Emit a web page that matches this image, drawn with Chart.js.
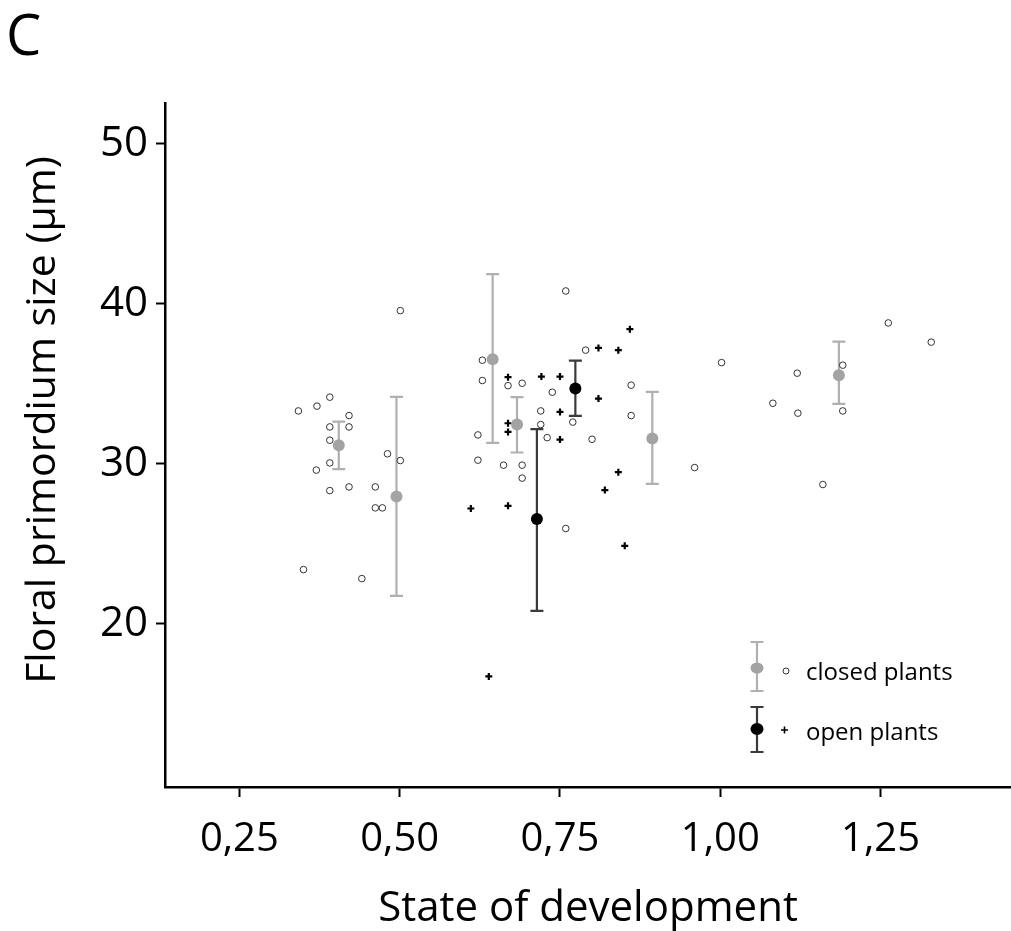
<!DOCTYPE html>
<html>
<head>
<meta charset="utf-8">
<script src="https://cdn.jsdelivr.net/npm/chart.js@4.4.1/dist/chart.umd.min.js"></script>
<style>
  html, body { margin: 0; padding: 0; background: #fff; overflow: hidden; }
  #wrap { width: 1011px; height: 931px; }
  #devChart { display: block; }
</style>
</head>
<body>
<div id="wrap"><canvas id="devChart" width="1011" height="931"></canvas></div>
<script>
// single measurements, closed plants (open circles)
const closedX = [0.501, 0.391, 0.342, 0.371, 0.421, 0.391, 0.421, 0.391, 0.481, 0.501,
  0.391, 0.370, 0.391, 0.421, 0.462, 0.462, 0.473, 0.350, 0.441,
  0.759, 0.790, 0.629, 0.629, 0.669, 0.691, 0.738, 0.861, 0.720, 0.861, 0.720,
  0.770, 0.622, 0.730, 0.800, 0.622, 0.662, 0.691, 0.691, 0.960, 0.759,
  1.002, 1.262, 1.329, 1.120, 1.191, 1.082, 1.121, 1.191, 1.160];
const closedY = [39.58, 34.17, 33.31, 33.61, 33.02, 32.31, 32.31, 31.48, 30.63, 30.21,
  30.06, 29.61, 28.33, 28.56, 28.56, 27.25, 27.25, 23.39, 22.83,
  40.81, 37.11, 36.48, 35.21, 34.89, 35.04, 34.48, 34.92, 33.31, 33.02, 32.46,
  32.61, 31.81, 31.64, 31.54, 30.23, 29.92, 29.92, 29.11, 29.77, 25.96,
  36.33, 38.81, 37.61, 35.67, 36.17, 33.79, 33.17, 33.31, 28.71];

// single measurements, open plants (crosses)
const openX = [0.859, 0.810, 0.841, 0.669, 0.721, 0.750, 0.810, 0.750, 0.669,
  0.669, 0.750, 0.841, 0.820, 0.611, 0.669, 0.851, 0.639];
const openY = [38.42, 37.25, 37.11, 35.42, 35.46, 35.46, 34.08, 33.25, 32.54,
  32.00, 31.52, 29.48, 28.36, 27.21, 27.38, 24.88, 16.71];

// group means with error bars
const closedMeanX = [0.405, 0.495, 0.645, 0.683, 0.894, 1.185];
const closedMeanY = [31.17, 27.96, 36.54, 32.46, 31.58, 35.54];
const closedLow = [29.67, 21.75, 31.31, 30.71, 28.75, 33.75];
const closedHigh = [32.64, 34.19, 41.86, 34.17, 34.50, 37.64];

const openMeanX = [0.714, 0.774];
const openMeanY = [26.56, 34.71];
const openLow = [20.81, 33.00];
const openHigh = [32.17, 36.46];

const xTicks = [0.25, 0.50, 0.75, 1.00, 1.25];
const yTicks = [20, 30, 40, 50];

const FONT = "'Open Sans', 'Noto Sans', sans-serif";
const GREY_BAR = '#b0b0b0';
const GREY_MEAN = '#a3a3a3';
const DARK_BAR = '#3a3a3a';

const toPoints = (xs, ys) => xs.map((v, i) => ({ x: v, y: ys[i] }));

function drawErrorBar(ctx, px, top, bottom, color) {
    ctx.save();
    ctx.strokeStyle = color;
    ctx.lineWidth = 2.2;
    ctx.beginPath();
    ctx.moveTo(px, top);
    ctx.lineTo(px, bottom);
    ctx.moveTo(px - 6.5, top);
    ctx.lineTo(px + 6.5, top);
    ctx.moveTo(px - 6.5, bottom);
    ctx.lineTo(px + 6.5, bottom);
    ctx.stroke();
    ctx.restore();
}

const errorBars = {
    id: 'errorBars',
    beforeDatasetsDraw(chart) {
        const { ctx, scales: { x, y } } = chart;
        closedMeanX.forEach((v, i) => {
            drawErrorBar(ctx, x.getPixelForValue(v), y.getPixelForValue(closedHigh[i]), y.getPixelForValue(closedLow[i]), GREY_BAR);
        });
        openMeanX.forEach((v, i) => {
            drawErrorBar(ctx, x.getPixelForValue(v), y.getPixelForValue(openHigh[i]), y.getPixelForValue(openLow[i]), DARK_BAR);
        });
    },
    afterDraw(chart) {
        const ctx = chart.ctx;
        ctx.save();
        ctx.fillStyle = '#000';

        // panel letter
        ctx.font = '56px ' + FONT;
        ctx.textAlign = 'left';
        ctx.textBaseline = 'alphabetic';
        ctx.fillText('C', 6, 55);

        // y axis title (sits a little above the axis centre in the original)
        ctx.save();
        ctx.translate(55, 420);
        ctx.rotate(-Math.PI / 2);
        ctx.font = '41px ' + FONT;
        ctx.textAlign = 'center';
        ctx.fillText('Floral primordium size (µm)', 0, 0);
        ctx.restore();

        // legend
        drawErrorBar(ctx, 757, 642, 691, GREY_BAR);
        ctx.fillStyle = GREY_MEAN;
        ctx.beginPath();
        ctx.ellipse(757, 668, 6.5, 5.5, 0, 0, Math.PI * 2);
        ctx.fill();
        ctx.strokeStyle = '#333';
        ctx.lineWidth = 1;
        ctx.fillStyle = '#fff';
        ctx.beginPath();
        ctx.arc(786, 671, 3, 0, Math.PI * 2);
        ctx.fill();
        ctx.stroke();

        drawErrorBar(ctx, 757, 707, 752, DARK_BAR);
        ctx.fillStyle = '#000';
        ctx.beginPath();
        ctx.ellipse(757, 729, 6.5, 6, 0, 0, Math.PI * 2);
        ctx.fill();
        ctx.strokeStyle = '#000';
        ctx.lineWidth = 1.6;
        ctx.beginPath();
        ctx.moveTo(781, 730);
        ctx.lineTo(788, 730);
        ctx.moveTo(784.5, 726.5);
        ctx.lineTo(784.5, 733.5);
        ctx.stroke();

        ctx.fillStyle = '#000';
        ctx.font = '24px ' + FONT;
        ctx.textAlign = 'left';
        ctx.fillText('closed plants', 806, 680);
        ctx.fillText('open plants', 806, 740);
        ctx.restore();
    }
};

const ctx = document.getElementById('devChart').getContext('2d');

new Chart(ctx, {
    type: 'scatter',
    data: {
        datasets: [
            {
                label: 'closed plants (mean)',
                data: toPoints(closedMeanX, closedMeanY),
                pointStyle: 'circle',
                pointRadius: 6,
                backgroundColor: GREY_MEAN,
                borderWidth: 0,
                order: 0,
            },
            {
                label: 'open plants (mean)',
                data: toPoints(openMeanX, openMeanY),
                pointStyle: 'circle',
                pointRadius: 6,
                backgroundColor: '#000',
                borderWidth: 0,
                order: 1,
            },
            {
                label: 'closed plants',
                data: toPoints(closedX, closedY),
                pointStyle: 'circle',
                pointRadius: 3.3,
                backgroundColor: '#fff',
                borderColor: '#333',
                borderWidth: 1,
                order: 2,
            },
            {
                label: 'open plants',
                data: toPoints(openX, openY),
                pointStyle: 'cross',
                pointRadius: 3.5,
                borderColor: '#000',
                borderWidth: 2.2,
                order: 3,
            },
        ],
    },
    options: {
        responsive: false,
        animation: false,
        layout: {
            autoPadding: false,
            padding: { top: 103, right: 0, bottom: 0, left: 0 },
        },
        plugins: {
            legend: { display: false },
            tooltip: { enabled: false },
        },
        scales: {
            x: {
                type: 'linear',
                min: 0.134,
                max: 1.4534,
                afterBuildTicks: (axis) => {
                    axis.ticks = xTicks.map((v) => ({ value: v }));
                },
                afterFit: (axis) => {
                    axis.height = 144;
                    axis.paddingLeft = 0;
                    axis.paddingRight = 0;
                },
                border: { display: true, color: '#000', width: 2.5 },
                grid: {
                    display: true,
                    drawOnChartArea: false,
                    drawTicks: true,
                    tickLength: 10,
                    tickColor: '#000',
                    tickWidth: 2,
                },
                ticks: {
                    color: '#000',
                    padding: 19,
                    maxRotation: 0,
                    autoSkip: false,
                    font: { family: FONT, size: 40 },
                    callback: (value) => value.toFixed(2).replace('.', ','),
                },
                title: {
                    display: true,
                    text: 'State of development',
                    color: '#000',
                    font: { family: FONT, size: 42, lineHeight: 1 },
                    padding: { top: 0, bottom: 1 },
                },
            },
            y: {
                type: 'linear',
                min: 9.8,
                max: 52.56,
                afterBuildTicks: (axis) => {
                    axis.ticks = yTicks.map((v) => ({ value: v }));
                },
                afterFit: (axis) => {
                    axis.width = 165;
                    axis.paddingTop = 0;
                    axis.paddingBottom = 0;
                },
                border: { display: true, color: '#000', width: 2.5 },
                grid: {
                    display: true,
                    drawOnChartArea: false,
                    drawTicks: true,
                    tickLength: 9,
                    tickColor: '#000',
                    tickWidth: 2,
                },
                ticks: {
                    color: '#000',
                    padding: 8,
                    font: { family: FONT, size: 42 },
                },
            },
        },
    },
    plugins: [errorBars],
});
</script>
</body>
</html>
